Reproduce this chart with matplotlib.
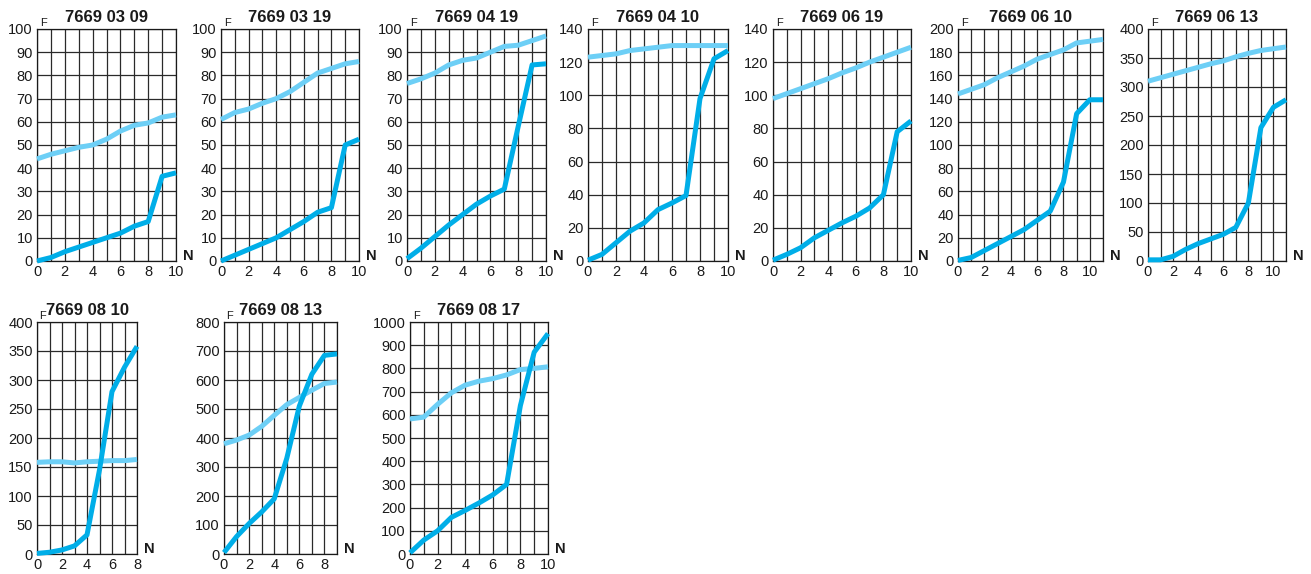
import matplotlib
matplotlib.use("Agg")
import matplotlib.pyplot as plt

plt.rcParams['font.family'] = ['Liberation Sans', 'DejaVu Sans']

W, H = 1311, 574

titles = ["7669 03 09", "7669 03 19", "7669 04 19", "7669 04 10", "7669 06 19",
          "7669 06 10", "7669 06 13", "7669 08 10", "7669 08 13", "7669 08 17"]

xmax = [10, 10, 10, 10, 10, 11, 11, 8, 9, 10]
ymax = [100, 100, 100, 140, 140, 200, 400, 400, 800, 1000]
ystep = [10, 10, 10, 20, 20, 20, 50, 50, 100, 100]

light_0309 = [44, 46, 47.5, 49, 50, 52.5, 56, 58.5, 59.5, 62, 63]
dark_0309 = [0, 1.5, 4, 6, 8, 10, 12, 15, 17, 36.5, 38]

light_0319 = [61, 64, 65.5, 68, 70, 73, 77, 81, 83, 85, 86]
dark_0319 = [0, 2.5, 5, 7.5, 10, 13.5, 17, 21, 23, 50, 52.5]

light_0419 = [76.5, 78.5, 81, 84.5, 86.5, 87.5, 90, 92.5, 93, 95, 97]
dark_0419 = [1, 5.5, 10.5, 15.5, 20, 24.5, 28, 31, 58, 84.5, 85]

light_0410 = [123, 124, 125, 127, 128, 129, 130, 130, 130, 130, 130]
dark_0410 = [0.5, 4, 11, 18, 23, 31, 35, 39.5, 98, 122, 127]

light_0619 = [98, 101, 104, 107, 110, 113.5, 116.5, 120, 123, 126, 129]
dark_0619 = [0.5, 4, 8, 14, 18.5, 23, 27, 32, 40, 78, 84.5]

light_0610 = [144, 148, 152, 158, 163, 168, 174, 178, 182, 188, 189.5, 191]
dark_0610 = [0.5, 3, 9, 15, 21, 27, 35, 43, 68, 127, 139, 139]

light_0613 = [310, 316, 322, 328, 334, 340, 345, 352, 358, 363, 366, 369]
dark_0613 = [2, 2, 8, 20, 30, 38, 46, 58, 100, 230, 265, 278]

light_0810 = [158, 159, 159, 157, 159, 160, 161, 161, 163]
dark_0810 = [1, 3, 7, 14, 33, 145, 280, 322, 358]

light_0813 = [380, 393, 410, 440, 478, 515, 540, 565, 588, 593]
dark_0813 = [5, 60, 105, 145, 190, 330, 510, 620, 685, 690]

light_0817 = [582, 590, 645, 695, 728, 745, 756, 772, 795, 800, 807]
dark_0817 = [5, 60, 100, 158, 188, 220, 255, 300, 640, 870, 950]

lights = [light_0309, light_0319, light_0419, light_0410, light_0619,
          light_0610, light_0613, light_0810, light_0813, light_0817]
darks = [dark_0309, dark_0319, dark_0419, dark_0410, dark_0619,
         dark_0610, dark_0613, dark_0810, dark_0813, dark_0817]

# pixel boxes (left, right, top, bottom)
boxes = [(37, 176, 29, 261), (221, 359, 29, 261), (407, 546, 29, 261),
         (588, 728, 29, 261), (773, 911, 29, 261), (958, 1103, 29, 261),
         (1148, 1286, 29, 261), (37, 137, 322, 554), (224, 337, 322, 554),
         (410, 548, 322, 554)]

LIGHT = '#6dcff6'
DARK = '#00aee8'

fig = plt.figure(figsize=(W / 100, H / 100), dpi=100)

for i in range(10):
    l, r, t, b = boxes[i]
    ax = fig.add_axes([l / W, 1 - b / H, (r - l) / W, (b - t) / H])
    xs = list(range(len(lights[i])))
    ax.set_xlim(0, xmax[i])
    ax.set_ylim(0, ymax[i])
    ax.set_xticks(range(0, xmax[i] + 1, 1))
    ax.set_xticklabels([str(v) if v % 2 == 0 else '' for v in range(0, xmax[i] + 1)])
    ax.set_yticks(range(0, ymax[i] + 1, ystep[i]))
    ax.tick_params(length=0, labelsize=10.5, pad=3, colors='#1a1a1a')
    ax.grid(True, color='#2a2a2a', linewidth=0.9)
    ax.set_axisbelow(True)
    for s in ax.spines.values():
        s.set_color('#1a1a1a')
        s.set_linewidth(0.9)
    ax.plot(xs, lights[i], color=LIGHT, linewidth=3.6, clip_on=False, zorder=3,
            solid_capstyle='butt')
    ax.plot(xs, darks[i], color=DARK, linewidth=3.6, clip_on=False, zorder=4,
            solid_capstyle='butt')
    ax.set_title(titles[i], fontsize=12, fontweight='bold', pad=5, color='#1a1a1a')
    ax.text(0.02, 1.005, 'F', transform=ax.transAxes, fontsize=8,
            ha='left', va='bottom', color='#1a1a1a')
    ax.text(1.0 + 7 / (r - l), 5 / (b - t), 'N', transform=ax.transAxes,
            fontsize=10.5, fontweight='bold', ha='left', va='center',
            color='#1a1a1a')

fig.savefig('out.png', dpi=100)
